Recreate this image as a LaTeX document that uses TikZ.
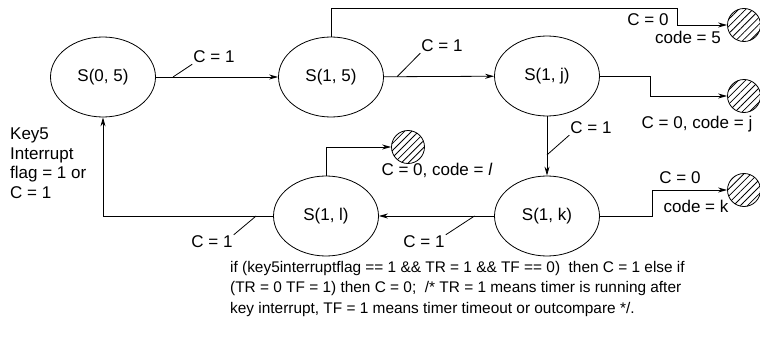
\documentclass[tikz,border=0pt]{standalone}
\usepackage{fontspec}
\setmainfont{Liberation Sans}
\usetikzlibrary{shapes.geometric,patterns.meta,arrows.meta}
\tikzset{
 state/.style={draw, ellipse, line width=0.8pt, minimum width=105pt, minimum height=80pt, inner sep=0pt,
               font=\fontsize{17}{20}\selectfont},
 sink/.style={draw, circle, line width=0.8pt, minimum size=33pt, inner sep=0pt,
              pattern={Lines[angle=45,distance=5pt,line width=0.8pt]}},
 arr/.style={-{Stealth[length=9pt,width=5pt]}, line width=0.8pt},
 lin/.style={line width=0.8pt},
 lbl/.style={inner sep=1pt, font=\fontsize{17}{19.5}\selectfont},
}

\begin{document}
\begin{tikzpicture}[x=1pt,y=-1pt]
\useasboundingbox (0,0) rectangle (760,345);
% states
\node[state] (s05) at (103,77) {S(0, 5)};
\node[state] (s15) at (331,77) {S(1, 5)};
\node[state] (s1j) at (547,76) {S(1, j)};
\node[state] (s1k) at (547,216) {S(1, k)};
\node[state] (s1l) at (326,216) {S(1, l)};
% end states
\node[sink] (e5) at (744,25) {};
\node[sink] (ej) at (744,96) {};
\node[sink] (ek) at (744,190) {};
\node[sink] (el) at (408,147) {};
% labels
\node[lbl] (c1) at (214,57) {C = 1};
\node[lbl] (c2) at (442,46) {C = 1};
\node[lbl] (c3) at (591,128) {C = 1};
\node[lbl] (c4) at (424,242) {C = 1};
\node[lbl] (c5) at (212,242) {C = 1};
\node[lbl] (z5) at (648,20) {C = 0};
\node[lbl] (k5) at (688,37) {code = 5};
\node[lbl] (zj) at (697,124) {C = 0, code = j};
\node[lbl] (zk) at (680,178) {C = 0};
\node[lbl] (kk) at (696,206) {code = k};
\node[lbl] (zl) at (437,170) {C = 0, code = \textit{l}};
\node[lbl, anchor=north west, align=left] (key) at (9,127) {Key5\\Interrupt\\flag = 1 or\\C = 1};
\node[anchor=north west, align=left, inner sep=0pt, font=\fontsize{15.4}{20.5}\selectfont] (cond) at (230,261)
 {if (key5interruptflag == 1 \&\& TR = 1 \&\& TF == 0)\ \ then C = 1 else if\\
  (TR = 0 TF = 1) then C = 0;\ \ /* TR = 1 means timer is running after\\
  key interrupt, TF = 1 means timer timeout or outcompare */.};
% turning points
\coordinate (t5) at (677,8);
\coordinate (tj) at (650,96);
\coordinate (tk) at (652,190);
% arrows
\draw[arr] (s05) -- node[pos=0.14, coordinate] (p1) {} (s15);
\draw[arr] (s15) -- node[pos=0.12, coordinate] (p2) {} (s1j);
\draw[arr] (s1j) -- node[pos=0.65, coordinate] (p3) {} (s1k);
\draw[arr] (s1k) -- node[pos=0.17, coordinate] (p4) {} (s1l);
\draw[arr] (s1l.west) -| node[pos=0.05, coordinate] (p5) {} (s05.south);
\draw[arr] (s15.north) |- (t5) -- (t5 |- e5) -- (e5);
\draw[arr] (s1j.east) -| (tj) -- (ej);
\draw[arr] (s1k.east) -| (tk) -- (ek);
\draw[arr] (s1l.north) |- (el);
% label ticks
\draw[lin] (p1) -- (c1.south west);
\draw[lin] (p2) -- (c2.south west);
\draw[lin] (p3) -- (c3.south west);
\draw[lin] (p4) -- (c4.north east);
\draw[lin] (p5) -- (c5.north east);
\end{tikzpicture}
\end{document}
